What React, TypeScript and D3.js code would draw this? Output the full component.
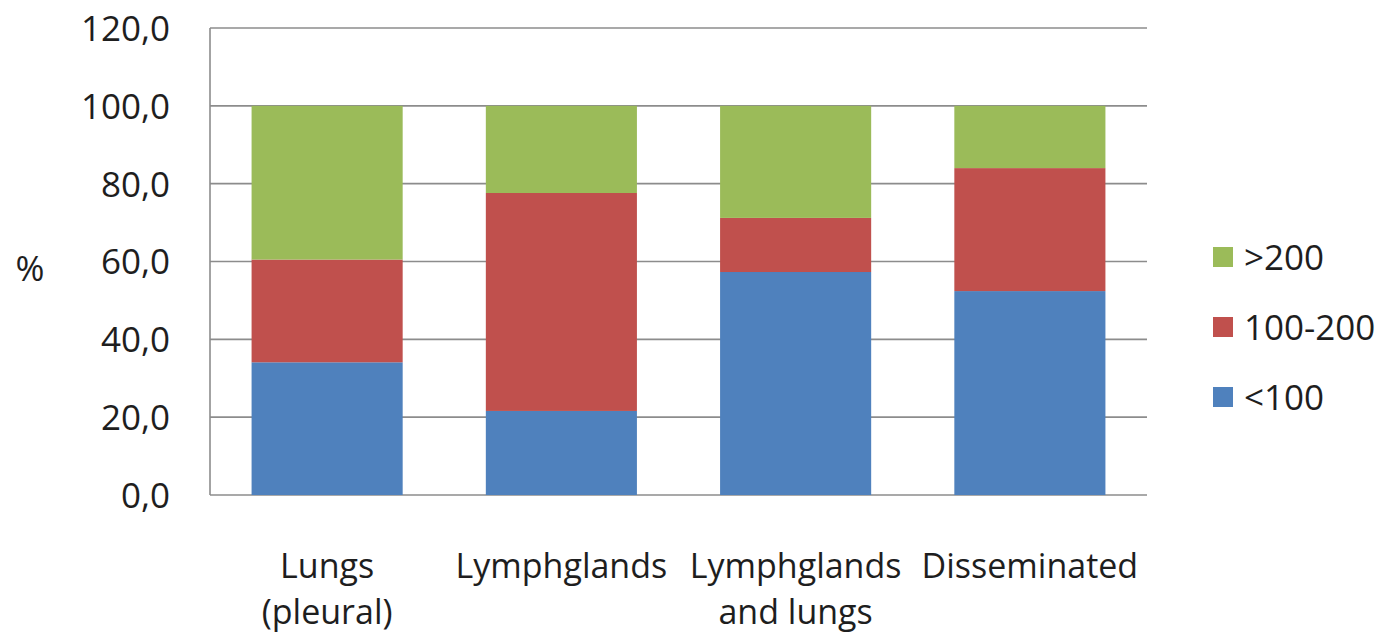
import React from "react";
import * as d3 from "d3";

// Metastasis site categories (two-line labels)
const categories = ["Lungs (pleural)", "Lymphglands", "Lymphglands and lungs", "Disseminated"];
const categoryLines = [["Lungs", "(pleural)"], ["Lymphglands"], ["Lymphglands", "and lungs"], ["Disseminated"]];

// Percent shares per group, bottom to top
const seriesKeys = ["<100", "100-200", ">200"];
const below100 = [34.1, 21.6, 57.3, 52.4];
const from100to200 = [26.4, 56.0, 13.9, 31.6];
const above200 = [39.5, 22.4, 28.8, 16.0];
const seriesColors = ["#4F81BD", "#C0504D", "#9BBB59"];

const yTicks = [0, 20, 40, 60, 80, 100, 120];
const yTickLabels = ["0,0", "20,0", "40,0", "60,0", "80,0", "100,0", "120,0"];

const W = 1393;
const H = 640;
const margin = { left: 210, right: 246, top: 28, bottom: 145 };
const FONT = "'Open Sans', sans-serif";

export default function App() {
  const innerW = W - margin.left - margin.right;
  const innerH = H - margin.top - margin.bottom;

  const x = d3.scaleBand<string>().domain(categories).range([0, innerW]).paddingInner(0.355).paddingOuter(0.1775);
  const y = d3.scaleLinear().domain([0, 120]).range([innerH, 0]);

  const rows = categories.map((c, i) => ({
    cat: c,
    "<100": below100[i],
    "100-200": from100to200[i],
    ">200": above200[i],
  }));
  const stacked = d3.stack<any>().keys(seriesKeys)(rows);

  const legendX = 1213;
  const legendY = [397, 327, 257];

  return (
    <svg width={W} height={H} style={{ display: "block", position: "absolute", left: 0, top: 0 }}>
      <rect width={W} height={H} fill="#ffffff" />
      <g transform={`translate(${margin.left},${margin.top})`}>
        {yTicks.map((t) => (
          <line key={t} x1={0} x2={innerW} y1={y(t)} y2={y(t)} stroke="#8c8c8c" strokeWidth={1.6} />
        ))}
        <line x1={0} x2={0} y1={0} y2={innerH} stroke="#8c8c8c" strokeWidth={1.6} />
        {stacked.map((layer, si) =>
          layer.map((d, ci) => (
            <rect
              key={`${si}-${ci}`}
              x={x(categories[ci])}
              width={x.bandwidth()}
              y={y(d[1])}
              height={y(d[0]) - y(d[1])}
              fill={seriesColors[si]}
            />
          ))
        )}
        {yTicks.map((t, i) => (
          <text
            key={t}
            x={-40}
            y={y(t)}
            dy="0.37em"
            textAnchor="end"
            fontFamily={FONT}
            fontSize={35}
            fill="#1e1e1e"
          >
            {yTickLabels[i]}
          </text>
        ))}
        {categories.map((c, i) => (
          <text
            key={c}
            x={(x(c) ?? 0) + x.bandwidth() / 2}
            y={innerH + 83}
            textAnchor="middle"
            fontFamily={FONT}
            fontSize={34}
            fill="#1e1e1e"
          >
            {categoryLines[i].map((ln, li) => (
              <tspan key={li} x={(x(c) ?? 0) + x.bandwidth() / 2} dy={li === 0 ? 0 : 46}>
                {ln}
              </tspan>
            ))}
          </text>
        ))}
      </g>
      <text x={30} y={268} dy="0.37em" textAnchor="middle" fontFamily={FONT} fontSize={35} fill="#1e1e1e">
        %
      </text>
      {seriesKeys.map((k, i) => (
        <g key={k}>
          <rect x={legendX} y={legendY[i] - 10} width={20} height={20} fill={seriesColors[i]} />
          <text x={legendX + 31} y={legendY[i]} dy="0.37em" fontFamily={FONT} fontSize={35} fill="#1e1e1e">
            {k}
          </text>
        </g>
      ))}
    </svg>
  );
}
